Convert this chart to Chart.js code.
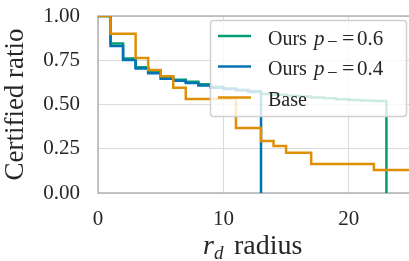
<!DOCTYPE html>
<html>
<head>
<meta charset="utf-8">
<script src="https://cdn.jsdelivr.net/npm/chart.js@4/dist/chart.umd.min.js"></script>
<style>html,body{margin:0;padding:0;background:#fff;overflow:hidden}</style>
</head>
<body>
<canvas id="chart" width="409" height="261"></canvas>
<script>
// valori
const radiusOurs06 = [0,1,2,3,4,5,6,7,8,9,10,11,12,13,14,15,16,17,18,19,20,21,22,23];
const ratioOurs06  = [1.0,0.845,0.76,0.71,0.685,0.655,0.64,0.628,0.615,0.60,0.59,0.58,0.57,0.56,0.555,0.55,0.545,0.54,0.535,0.53,0.525,0.523,0.52,0];
const radiusOurs04 = [0,1,2,3,4,5,6,7,8,9,10,11,12,13];
const ratioOurs04  = [1.0,0.83,0.751,0.704,0.676,0.646,0.634,0.621,0.608,0.595,0.588,0.582,0.575,0];
const radiusBase   = [0,1,3,4,5,6,7,11,13,14,15,17,22,25];
const ratioBase    = [1.0,0.9,0.763,0.695,0.66,0.595,0.531,0.367,0.294,0.266,0.228,0.164,0.13,0.13];
const xTicks = [0,10,20];
const yTicks = [0,0.25,0.5,0.75,1.0];
const legendLabels = ['0.6','0.4'];

const GREEN = '#029e73', BLUE = '#0173b2', ORANGE = '#de8f05';
const SERIF = '"Liberation Serif", "DejaVu Serif", serif';

function punti(xs, ys) {
  return xs.map((x, i) => ({x: x, y: ys[i]}));
}

// assi: bordo superiore, sinistro, inferiore (dietro le linee)
const spinePlugin = {
  id: 'spines',
  beforeDatasetsDraw(chart) {
    const {ctx, chartArea: a} = chart;
    ctx.save();
    ctx.strokeStyle = '#b3b3b3';
    ctx.lineWidth = 1.5;
    ctx.beginPath();
    ctx.moveTo(a.right + 2, a.top);
    ctx.lineTo(a.left, a.top);
    ctx.lineTo(a.left, a.bottom);
    ctx.lineTo(a.right + 2, a.bottom);
    ctx.stroke();
    ctx.restore();
  }
};

// legenda sopra le linee, con sfondo semitrasparente
const legendPlugin = {
  id: 'legendBox',
  afterDatasetsDraw(chart) {
    const ctx = chart.ctx;
    const x = 210.5, y = 20.5, w = 196, h = 96;
    ctx.save();
    ctx.beginPath();
    ctx.roundRect(x, y, w, h, 3);
    ctx.fillStyle = 'rgba(255,255,255,0.8)';
    ctx.fill();
    ctx.strokeStyle = '#d0d0d0';
    ctx.lineWidth = 1.5;
    ctx.stroke();

    const rows = [
      {color: GREEN, y: 36, kind: 'ours', val: legendLabels[0]},
      {color: BLUE, y: 66.5, kind: 'ours', val: legendLabels[1]},
      {color: ORANGE, y: 97.5, kind: 'base'}
    ];
    rows.forEach(r => {
      ctx.strokeStyle = r.color;
      ctx.lineWidth = 2.5;
      ctx.beginPath();
      ctx.moveTo(218, r.y);
      ctx.lineTo(251, r.y);
      ctx.stroke();
      ctx.fillStyle = '#262626';
      ctx.textBaseline = 'alphabetic';
      ctx.textAlign = 'left';
      const base = r.y + 8.5;
      ctx.font = '20px ' + SERIF;
      if (r.kind === 'base') {
        ctx.fillText('Base', 268, base);
        return;
      }
      ctx.fillText('Ours', 268, base);
      ctx.font = 'italic 21px ' + SERIF;
      ctx.fillText('p', 314, base);
      ctx.font = '19px ' + SERIF;
      ctx.fillText('\u2212', 327, base + 3.5);
      ctx.font = '22px ' + SERIF;
      ctx.fillText('=', 342, base);
      ctx.font = '21px ' + SERIF;
      ctx.fillText(r.val, 357, base);
    });
    ctx.restore();
  },
  afterDraw(chart) {
    // titolo asse x: r_d radius
    const ctx = chart.ctx;
    ctx.save();
    ctx.fillStyle = '#262626';
    ctx.textBaseline = 'alphabetic';
    ctx.textAlign = 'left';
    const base = 254;
    ctx.font = 'italic 28px ' + SERIF;
    ctx.fillText('r', 203, base);
    ctx.font = 'italic 19px ' + SERIF;
    ctx.fillText('d', 214, base + 5);
    ctx.font = '28px ' + SERIF;
    ctx.fillText('radius', 234, base);
    ctx.restore();
  }
};

const ctx = document.getElementById('chart').getContext('2d');
const chart = new Chart(ctx, {
  type: 'line',
  data: {
    datasets: [{
      label: 'Base',
      data: punti(radiusBase, ratioBase),
      borderColor: ORANGE,
      borderWidth: 2.5,
      stepped: 'before',
      pointRadius: 0,
      fill: false,
      order: 0
    }, {
      label: 'Ours p\u2212=0.4',
      data: punti(radiusOurs04, ratioOurs04),
      borderColor: BLUE,
      borderWidth: 2.5,
      stepped: 'before',
      pointRadius: 0,
      fill: false,
      order: 1
    }, {
      label: 'Ours p\u2212=0.6',
      data: punti(radiusOurs06, ratioOurs06),
      borderColor: GREEN,
      borderWidth: 2.5,
      stepped: 'before',
      pointRadius: 0,
      fill: false,
      order: 2
    }]
  },
  options: {
    responsive: false,
    animation: false,
    layout: {padding: {top: 16, right: 0, left: 0, bottom: 0}},
    plugins: {legend: {display: false}, tooltip: {enabled: false}},
    scales: {
      x: {
        type: 'linear',
        min: 0,
        max: 24.8,
        afterFit(s) { s.height = 68; s.paddingLeft = 0; s.paddingRight = 0; },
        afterBuildTicks(s) { s.ticks = xTicks.map(v => ({value: v})); },
        grid: {color: '#dadada', lineWidth: 1, drawTicks: false},
        border: {display: false},
        ticks: {
          font: {family: SERIF, size: 21},
          color: '#262626',
          padding: 14,
          maxRotation: 0
        }
      },
      y: {
        min: 0,
        max: 1,
        afterFit(s) { s.width = 98; s.paddingTop = 0; s.paddingBottom = 0; },
        afterBuildTicks(s) { s.ticks = yTicks.map(v => ({value: v})); },
        grid: {color: '#dadada', lineWidth: 1, drawTicks: false},
        border: {display: false},
        ticks: {
          font: {family: SERIF, size: 21},
          color: '#262626',
          padding: 18,
          callback: v => v.toFixed(2)
        },
        title: {
          display: true,
          text: 'Certified ratio',
          font: {family: SERIF, size: 27},
          color: '#262626',
          padding: {top: 0, bottom: 4}
        }
      }
    }
  },
  plugins: [spinePlugin, legendPlugin]
});
</script>
</body>
</html>
